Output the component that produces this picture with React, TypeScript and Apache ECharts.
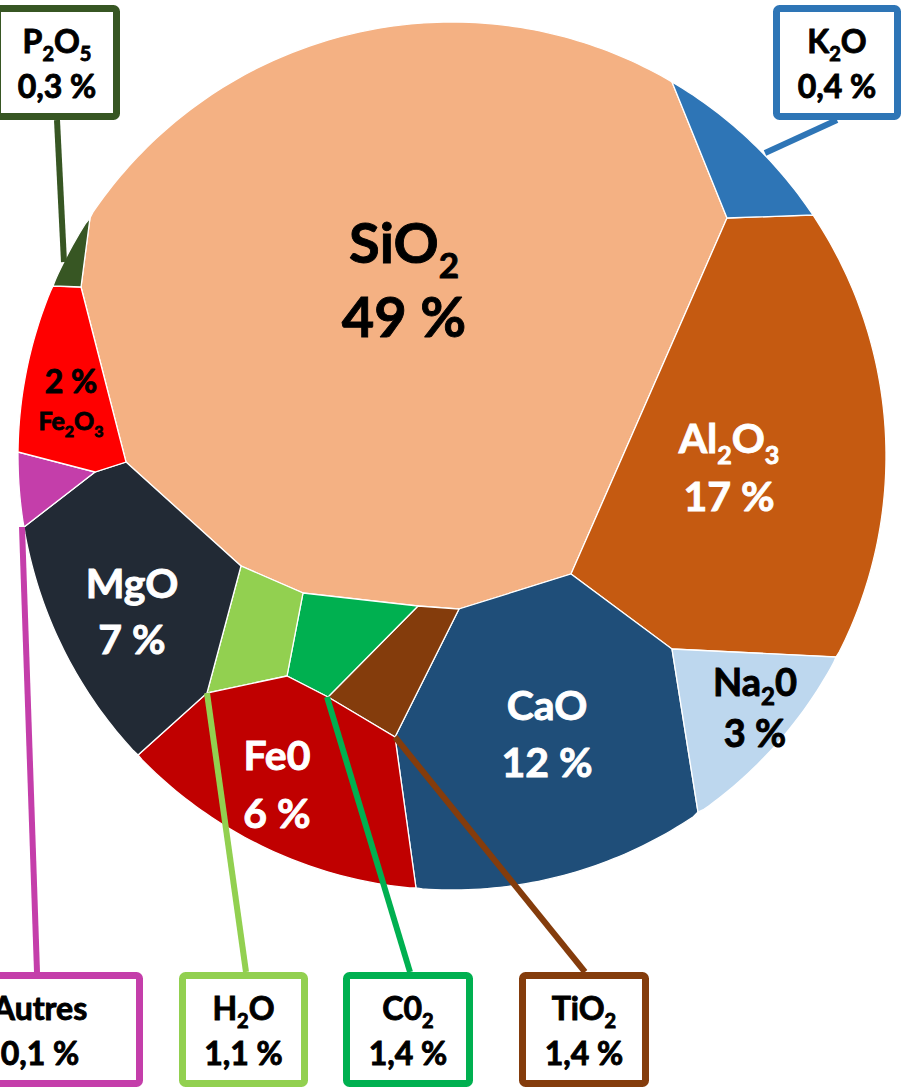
import React, { useEffect, useRef } from "react";
import * as echarts from "echarts";

// ---- data ----
const oxides = ["SiO2", "Al2O3", "CaO", "Na20", "K2O", "TiO2", "C02", "H2O", "Fe0", "MgO", "Autres", "Fe2O3", "P2O5"];
const percents = [49, 17, 12, 3, 0.4, 1.4, 1.4, 1.1, 6, 7, 0.1, 2, 0.3];
const cellColors = ["#F4B183", "#C55A11", "#1F4E79", "#BDD7EE", "#2E75B6", "#843C0C", "#00B050", "#92D050", "#C00000", "#222A35", "#C43EAA", "#FF0000", "#375623"];

// ---- layout (Voronoi-treemap cells, in axis units) ----
const CIRCLE = { cx: 452, cy: 456, r: 434 };
const cellOutlines: number[][][] = [
  [[672, 82], [90, 218], [81, 287], [126, 462], [241, 566], [303, 593], [418, 606], [459, 609], [571, 574], [727, 218]],
  [[727, 218], [571, 574], [672, 649], [836, 657], [813, 215]],
  [[459, 609], [395, 737], [416, 888], [698, 812], [672, 649], [571, 574]],
  [[672, 649], [698, 812], [836, 657]],
  [[672, 82], [727, 218], [813, 215]],
  [[418, 606], [328, 697], [395, 737], [459, 609]],
  [[303, 593], [287, 676], [328, 697], [418, 606]],
  [[241, 566], [207, 693], [287, 676], [303, 593]],
  [[207, 693], [138, 755], [416, 888], [395, 737], [328, 697], [287, 676]],
  [[24, 527], [138, 755], [207, 693], [241, 566], [126, 462], [95, 472]],
  [[18, 452], [24, 527], [95, 472]],
  [[53, 286], [18, 452], [95, 472], [126, 462], [81, 287]],
  [[90, 218], [81, 287], [53, 286]],
];

const innerLabels = [
  { i: 0, x: 404, y: 278, lh: 74, fs: 56, color: "#000000" },
  { i: 1, x: 729, y: 466, lh: 58, fs: 41, color: "#ffffff" },
  { i: 2, x: 547, y: 733, lh: 57, fs: 41, color: "#ffffff" },
  { i: 3, x: 755, y: 706, lh: 51, fs: 38, color: "#000000" },
  { i: 9, x: 132, y: 610, lh: 56, fs: 41, color: "#ffffff" },
  { i: 8, x: 277, y: 783, lh: 58, fs: 41, color: "#ffffff" },
  { i: 11, x: 71, y: 400, lh: 40, fs: 32, nameFs: 25, color: "#000000", percentFirst: true },
];

const callouts = [
  { i: 4, box: [773, 5, 901, 120], leader: [837, 120, 765, 153] },
  { i: 5, box: [519, 972, 649, 1087], leader: [585, 972, 395, 737] },
  { i: 6, box: [343, 972, 473, 1087], leader: [410, 972, 327, 697] },
  { i: 7, box: [179, 972, 308, 1087], leader: [246, 972, 207, 693] },
  { i: 10, box: [-63, 972, 143, 1087], leader: [37, 972, 22, 527] },
  { i: 12, box: [-6, 5, 120, 120], leader: [57, 120, 64, 262] },
];

const FONT = 'Lato, "Open Sans", "DejaVu Sans", sans-serif';

function fmtPct(v: number) {
  return String(v).replace(".", ",") + " %";
}

function richName(name: string, m: string, s: string) {
  let out = "";
  let run = "";
  let runSub: boolean | null = null;
  for (const ch of name) {
    const sub = /[1-9]/.test(ch);
    if (runSub !== null && sub !== runSub) {
      out += `{${runSub ? s : m}|${run}}`;
      run = "";
    }
    run += ch;
    runSub = sub;
  }
  if (run) out += `{${runSub ? s : m}|${run}}`;
  return out;
}

function outlinePoints(verts: number[][]) {
  const { cx, cy, r } = CIRCLE;
  const onCircle = (p: number[]) => Math.abs(Math.hypot(p[0] - cx, p[1] - cy) - r) < 4;
  const out: number[][] = [];
  for (let k = 0; k < verts.length; k++) {
    const a = verts[k];
    const b = verts[(k + 1) % verts.length];
    out.push(a);
    if (onCircle(a) && onCircle(b)) {
      const a0 = Math.atan2(a[1] - cy, a[0] - cx);
      const a1 = Math.atan2(b[1] - cy, b[0] - cx);
      let d = a1 - a0;
      while (d > Math.PI) d -= 2 * Math.PI;
      while (d <= -Math.PI) d += 2 * Math.PI;
      const steps = Math.max(2, Math.ceil(Math.abs(d) / 0.015));
      for (let t = 1; t < steps; t++) {
        const ang = a0 + (d * t) / steps;
        out.push([cx + r * Math.cos(ang), cy + r * Math.sin(ang)]);
      }
    }
  }
  return out;
}

function richStyles(fs: number, lh: number, color: string, nameFs?: number) {
  const nf = nameFs || fs;
  const base = { fontWeight: "bold", fontFamily: FONT, fill: color, lineHeight: lh, stroke: color, lineWidth: 0.9 };
  return {
    m: { ...base, fontSize: nf },
    s: { ...base, fontSize: Math.round(nf * 0.62), padding: [Math.round(nf * 0.8), 0, 0, 0] },
    p: { ...base, fontSize: fs },
  };
}

export default function App() {
  const ref = useRef<HTMLDivElement>(null);
  useEffect(() => {
    if (!ref.current) return;
    document.body.style.margin = "0";
    const chart = echarts.init(ref.current, null, { renderer: "svg" });
    chart.setOption({
      animation: false,
      grid: { left: 0, right: 0, top: 0, bottom: 0 },
      xAxis: { type: "value", min: 0, max: 902, show: false },
      yAxis: { type: "value", min: 0, max: 1088, inverse: true, show: false },
      series: [
        {
          type: "custom",
          silent: true,
          z: 2,
          data: oxides.map((_, i) => [i]),
          encode: { x: 0, y: 0 },
          renderItem: (params: any, api: any) => {
            const i = api.value(0);
            const pts = outlinePoints(cellOutlines[i]).map((p) => api.coord(p));
            const children: any[] = [
              {
                type: "polygon",
                shape: { points: pts },
                style: { fill: cellColors[i], stroke: "#ffffff", lineWidth: 1.3 },
              },
            ];
            const lab = innerLabels.find((l) => l.i === i);
            if (lab) {
              const [x, y] = api.coord([lab.x, lab.y]);
              const nameLine = richName(oxides[i], "m", "s");
              const pctLine = `{p|${fmtPct(percents[i])}}`;
              children.push({
                type: "text",
                x,
                y,
                z2: 10,
                style: {
                  text: lab.percentFirst ? pctLine + "\n" + nameLine : nameLine + "\n" + pctLine,
                  rich: richStyles(lab.fs, lab.lh, lab.color, lab.nameFs),
                  align: "center",
                  verticalAlign: "middle",
                  fill: lab.color,
                  fontFamily: FONT,
                  fontWeight: "bold",
                  fontSize: lab.fs,
                },
              });
            }
            return { type: "group", children };
          },
        },
        {
          type: "custom",
          silent: true,
          z: 3,
          data: callouts.map((_, k) => [k]),
          encode: { x: 0, y: 0 },
          renderItem: (params: any, api: any) => {
            const c = callouts[api.value(0)];
            const color = cellColors[c.i];
            const [lx1, ly1] = api.coord([c.leader[0], c.leader[1]]);
            const [lx2, ly2] = api.coord([c.leader[2], c.leader[3]]);
            const [bx0, by0] = api.coord([c.box[0], c.box[1]]);
            const [bx1, by1] = api.coord([c.box[2], c.box[3]]);
            const lw = 7;
            return {
              type: "group",
              children: [
                {
                  type: "line",
                  shape: { x1: lx1, y1: ly1, x2: lx2, y2: ly2 },
                  style: { stroke: color, lineWidth: 6 },
                },
                {
                  type: "rect",
                  shape: {
                    x: bx0 + lw / 2,
                    y: by0 + lw / 2,
                    width: bx1 - bx0 - lw,
                    height: by1 - by0 - lw,
                    r: 3,
                  },
                  style: { fill: "#ffffff", stroke: color, lineWidth: lw },
                },
                {
                  type: "text",
                  x: (bx0 + bx1) / 2,
                  y: (by0 + by1) / 2,
                  z2: 10,
                  style: {
                    text: richName(oxides[c.i], "m", "s") + "\n" + `{p|${fmtPct(percents[c.i])}}`,
                    rich: richStyles(32, 45, "#000000"),
                    align: "center",
                    verticalAlign: "middle",
                    fill: "#000000",
                    fontFamily: FONT,
                    fontWeight: "bold",
                    fontSize: 32,
                  },
                },
              ],
            };
          },
        },
      ],
    });
    return () => chart.dispose();
  }, []);
  return <div ref={ref} style={{ position: "absolute", left: 0, top: 0, width: 902, height: 1088 }} />;
}
